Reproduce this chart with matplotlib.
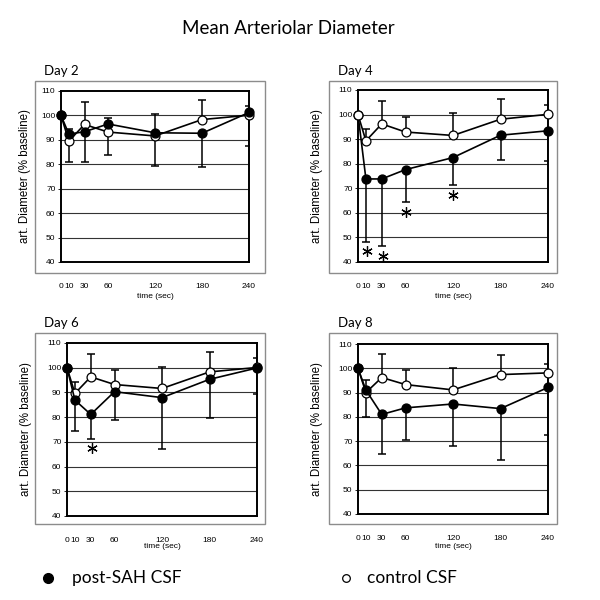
import matplotlib
matplotlib.use("Agg")
import matplotlib.pyplot as plt
from matplotlib.patches import Rectangle
from matplotlib.lines import Line2D

W, H = 600, 600

time_sec = [0, 10, 30, 60, 120, 180, 240]
tick_labels = ["0", "10", "30", "60", "120", "180", "240"]
panel_titles = ["Day 2", "Day 4", "Day 6", "Day 8"]

# post-SAH CSF (filled) means and lower error-bar ends
sah_day2 = [100, 92.4, 93.3, 96.5, 92.9, 92.7, 101.2]
sah_day2_low = [100, 80.8, 80.8, 83.6, 79.4, 78.9, 87.6]
sah_day4 = [100, 73.8, 73.8, 77.6, 82.5, 91.6, 93.4]
sah_day4_low = [100, 48.0, 46.6, 64.5, 71.3, 81.5, 81.1]
sah_day6 = [100, 86.9, 81.1, 90.3, 87.9, 95.3, 99.9]
sah_day6_low = [100, 74.4, 71.0, 78.8, 67.0, 79.8, 89.2]
sah_day8 = [100, 91.0, 81.0, 83.7, 85.3, 83.4, 92.1]
sah_day8_low = [100, 79.8, 64.8, 70.5, 68.0, 62.3, 72.4]

# control CSF (open) means and upper error-bar ends
ctl_day2 = [100, 89.5, 96.3, 93.2, 91.6, 98.3, 100.1]
ctl_day2_high = [100, 94.3, 105.7, 99.0, 100.6, 106.2, 103.9]
ctl_day4 = [100, 89.3, 96.2, 92.9, 91.5, 98.1, 100.1]
ctl_day4_high = [100, 94.2, 105.6, 99.0, 100.5, 106.2, 103.8]
ctl_day6 = [100, 89.6, 96.3, 93.2, 91.6, 98.3, 100.1]
ctl_day6_high = [100, 94.3, 105.6, 99.1, 100.4, 106.2, 103.9]
ctl_day8 = [100, 90.0, 96.2, 93.3, 91.1, 97.4, 98.1]
ctl_day8_high = [100, 95.1, 105.8, 99.2, 100.3, 105.4, 101.9]

# significance asterisks
stars_day2_x, stars_day2_y = [], []
stars_day4_x, stars_day4_y = [11, 31, 61, 120], [44.6, 42.4, 60.5, 67.3]
stars_day6_x, stars_day6_y = [31], [67.4]
stars_day8_x, stars_day8_y = [], []

sah = [sah_day2, sah_day4, sah_day6, sah_day8]
sah_low = [sah_day2_low, sah_day4_low, sah_day6_low, sah_day8_low]
ctl = [ctl_day2, ctl_day4, ctl_day6, ctl_day8]
ctl_high = [ctl_day2_high, ctl_day4_high, ctl_day6_high, ctl_day8_high]
stars_x = [stars_day2_x, stars_day4_x, stars_day6_x, stars_day8_x]
stars_y = [stars_day2_y, stars_day4_y, stars_day6_y, stars_day8_y]
control_on_top = [False, True, False, False]

# layout in pixels (x0, y0, x1, y1), origin top-left
inner = [(61, 91, 249, 262), (358, 90, 548, 262), (67, 343, 257, 516), (358, 344, 548, 514)]
outer = [(35, 81, 265, 273), (329, 81, 557, 273), (35, 333, 265, 524), (329, 333, 557, 524)]
ylabel_x = [25, 317, 26, 317]
daylabel_xy = [(44, 71), (338, 71), (44, 323), (338, 323)]
xlabel_y = [296, 296, 546, 546]

AX_FONT = ["Liberation Sans", "DejaVu Sans"]
HD_FONT = ["Lato", "DejaVu Sans"]

fig = plt.figure(figsize=(W / 100, H / 100), dpi=100)


def fx(x):
    return x / W


def fy(y):
    return 1 - y / H


fig.text(fx(288), fy(29), "Mean Arteriolar Diameter", ha="center", va="center",
         fontsize=13.5, family=HD_FONT)

for i in range(4):
    x0, y0, x1, y1 = outer[i]
    fig.add_artist(Rectangle((fx(x0), fy(y1)), (x1 - x0) / W, (y1 - y0) / H,
                             transform=fig.transFigure, fill=False,
                             edgecolor="#8c8c8c", linewidth=1.0))
    x0, y0, x1, y1 = inner[i]
    ax = fig.add_axes([fx(x0), fy(y1), (x1 - x0) / W, (y1 - y0) / H])
    ax.set_xlim(0, 240)
    ax.set_ylim(40, 110)
    ax.set_yticks(range(40, 111, 10))
    ax.set_xticks(time_sec)
    ax.set_xticklabels(tick_labels)
    for y in range(50, 101, 10):
        ax.axhline(y, color="#333333", linewidth=0.8, zorder=1)
    for s in ax.spines.values():
        s.set_linewidth(1.4)
        s.set_color("black")
    ax.tick_params(axis="y", length=2.5, width=0.6, pad=1.5, labelsize=6)
    ax.tick_params(axis="x", length=0, pad=15, labelsize=6)
    for lab in ax.get_xticklabels() + ax.get_yticklabels():
        lab.set_family(AX_FONT)

    s_low = [m - l for m, l in zip(sah[i], sah_low[i])]
    c_high = [h - m for m, h in zip(ctl[i], ctl_high[i])]
    zs = 4 if not control_on_top[i] else 3
    zc = 3 if not control_on_top[i] else 4
    ax.errorbar(time_sec[1:], sah[i][1:], yerr=[s_low[1:], [0] * 6], fmt="none",
                ecolor="black", elinewidth=1.1, capsize=2.6, capthick=1.1, zorder=2)
    ax.errorbar(time_sec[1:], ctl[i][1:], yerr=[[0] * 6, c_high[1:]], fmt="none",
                ecolor="black", elinewidth=1.1, capsize=2.6, capthick=1.1, zorder=2)
    ax.plot(time_sec, sah[i], color="black", linewidth=1.2, marker="o", markersize=6.4,
            markerfacecolor="black", markeredgecolor="black", zorder=zs, clip_on=False)
    ax.plot(time_sec, ctl[i], color="black", linewidth=1.2, marker="o", markersize=6.4,
            markerfacecolor="white", markeredgecolor="black", markeredgewidth=0.9,
            zorder=zc, clip_on=False)
    if stars_x[i]:
        ax.plot(stars_x[i], stars_y[i], linestyle="none", marker=(6, 2, 0),
                markersize=7.5, markeredgewidth=0.9, color="black", zorder=5)

    fig.text(fx(ylabel_x[i]), fy((y0 + y1) / 2), "art. Diameter (% baseline)",
             rotation=90, ha="center", va="center", fontsize=8.3, family=AX_FONT)
    fig.text(fx((x0 + x1) / 2), fy(xlabel_y[i]), "time (sec)", ha="center",
             va="center", fontsize=6, family=AX_FONT)
    dx, dy = daylabel_xy[i]
    fig.text(fx(dx), fy(dy), panel_titles[i], ha="left", va="center", fontsize=9.5,
             family=HD_FONT)

# legend
fig.add_artist(Line2D([fx(48)], [fy(578)], marker="o", markersize=7, color="black",
                      markerfacecolor="black", transform=fig.transFigure, linestyle="none"))
fig.text(fx(72), fy(578), "post-SAH CSF", ha="left", va="center", fontsize=12.5,
         family=HD_FONT)
fig.add_artist(Line2D([fx(346)], [fy(578)], marker="o", markersize=5.5, color="black",
                      markerfacecolor="white", markeredgewidth=0.9,
                      transform=fig.transFigure, linestyle="none"))
fig.text(fx(367), fy(578), "control CSF", ha="left", va="center", fontsize=12.5,
         family=HD_FONT)

fig.savefig("out.png", dpi=100)
